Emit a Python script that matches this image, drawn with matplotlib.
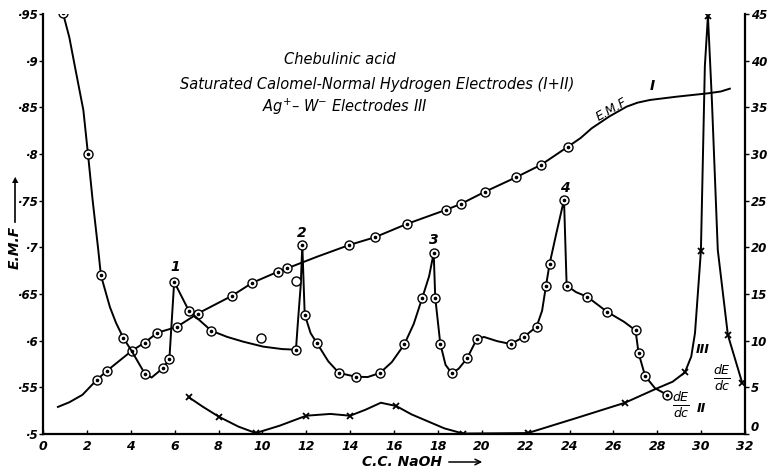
import matplotlib

matplotlib.use("Agg")

import matplotlib.pyplot as plt

W, H = 767, 469

# Curve I: E.M.F. (left scale), circles where marked
emf_x = [0.68, 1.2, 1.8, 2.45, 2.93, 4.04, 4.64, 5.21, 6.09, 7.05, 8.61, 9.54, 10.72, 11.13,
         12.5, 13.96, 15.13, 16.58, 18.35, 19.04, 20.15, 21.56, 22.71, 23.94,
         24.5, 25.01, 25.8, 26.6, 27.1, 27.67, 28.88, 30.31, 30.9, 31.31]
emf_y = [0.529, 0.534, 0.542, 0.558, 0.568, 0.589, 0.598, 0.6085, 0.6146, 0.629, 0.648, 0.662, 0.674, 0.6775,
         0.690, 0.7025, 0.7108, 0.725, 0.740, 0.7464, 0.7596, 0.775, 0.7885, 0.808,
         0.817, 0.8275, 0.840, 0.8507, 0.855, 0.8579, 0.8614, 0.865, 0.867, 0.870]
emf_mark = [0, 0, 0, 1, 1, 1, 1, 1, 1, 1, 1, 1, 1, 1,
            0, 1, 1, 1, 1, 1, 1, 1, 1, 1,
            0, 0, 0, 0, 0, 0, 0, 0, 0, 0]

# Curve II: dE/dc (right scale), calomel / hydrogen electrodes
d2_x = [0.91, 1.2, 1.46, 1.84, 2.05, 2.26, 2.52, 2.64, 3.05, 3.33, 3.66, 4.04, 4.65, 4.95, 5.46, 5.76,
        5.98, 6.65, 7.67, 8.4, 9.13, 10.04, 10.9, 11.53, 11.62, 11.75, 11.82, 11.93, 12.2, 12.49,
        13.0, 13.49, 14.25, 14.8, 15.36, 15.9, 16.47, 16.9, 17.29, 17.6, 17.81, 17.88, 18.11, 18.35,
        18.64, 18.95, 19.33, 19.77, 20.1, 20.7, 21.32, 21.92, 22.5, 22.75, 22.93, 23.09, 23.4, 23.75,
        23.87, 24.3, 24.81, 25.71, 26.5, 27.01, 27.15, 27.45, 27.9, 28.45]
d2_y = [45.1, 42.5, 39.3, 34.7, 30.0, 25.1, 19.7, 17.0, 13.6, 11.9, 10.3, 8.9, 6.43, 6.05, 7.04, 8.0,
        16.3, 13.2, 11.07, 10.4, 9.89, 9.36, 9.1, 9.03, 12.0, 16.0, 20.25, 12.8, 10.8, 9.72,
        7.8, 6.54, 6.14, 6.1, 6.54, 7.7, 9.6, 11.8, 14.6, 16.9, 19.4, 14.6, 9.68, 7.4,
        6.5, 7.0, 8.1, 10.15, 10.4, 9.95, 9.64, 10.4, 11.5, 13.2, 15.9, 18.2, 21.5, 25.1,
        15.9, 15.2, 14.7, 13.1, 12.0, 11.1, 8.65, 6.2, 4.9, 4.2]
d2_mark = [1, 0, 0, 0, 1, 0, 0, 1, 0, 0, 1, 0, 1, 0, 1, 1,
           1, 1, 1, 0, 0, 0, 0, 1, 0, 0, 1, 1, 0, 1,
           0, 1, 1, 0, 1, 0, 1, 0, 1, 0, 1, 1, 1, 0,
           1, 0, 1, 1, 0, 0, 1, 1, 1, 0, 1, 1, 0, 1,
           1, 0, 1, 1, 0, 1, 1, 1, 0, 1]
# stray readings
stray_x = [9.92, 11.52]
stray_y = [10.25, 16.4]

# Curve III: dE/dc (right scale), Ag-W electrodes, crosses where marked
d3_x = [6.65, 7.3, 8.02, 8.9, 9.7, 10.8, 12.0, 13.1, 14.0, 14.7, 15.4, 16.1, 16.8, 17.5, 18.3, 19.15,
        22.1, 24.3, 26.53, 27.9, 28.7, 29.26, 29.55, 29.72, 29.99, 30.17, 30.31, 30.49, 30.76, 31.22, 31.87]
d3_y = [3.93, 2.9, 1.85, 0.8, 0.1, 0.9, 1.96, 2.15, 1.96, 2.6, 3.35, 3.0, 2.1, 1.4, 0.6, 0.05,
        0.1, 1.7, 3.35, 4.8, 5.6, 6.6, 8.3, 10.8, 19.6, 39.4, 44.8, 35.8, 19.7, 10.6, 5.5]
d3_mark = [1, 0, 1, 0, 1, 0, 1, 0, 1, 0, 0, 1, 0, 0, 0, 1,
           1, 0, 1, 0, 0, 1, 0, 0, 1, 0, 1, 0, 0, 1, 1]

x_ticks = list(range(0, 33, 2))
left_ticks = [0.5, 0.55, 0.6, 0.65, 0.7, 0.75, 0.8, 0.85, 0.9, 0.95]
left_labels = ["·5", "·55", "·6", "·65", "·7", "·75", "·8", "·85", "·9", "·95"]
right_ticks = list(range(0, 46, 5))

peak_labels = ["1", "2", "3", "4"]
peak_x = [6.02, 11.79, 17.83, 23.79]
peak_y = [0.679, 0.7157, 0.7079, 0.7632]

title_lines = ["Chebulinic acid",
               "Saturated Calomel-Normal Hydrogen Electrodes (I+II)",
               "Ag$^{+}$– W$^{-}$ Electrodes III"]

LW = 1.4
FONT = dict(style="italic", fontweight="bold", color="black")


def px(x, y):
    return x / W, 1 - y / H


def circles(ax, xs, ys, dot=True):
    ax.plot(xs, ys, ls="none", marker="o", ms=6.5, mfc="white", mec="black", mew=1.0, zorder=4)
    if dot:
        ax.plot(xs, ys, ls="none", marker="o", ms=1.6, color="black", zorder=5)


def pick(xs, ys, flags):
    sel = [(a, b) for a, b, f in zip(xs, ys, flags) if f]
    return [a for a, _ in sel], [b for _, b in sel]


fig = plt.figure(figsize=(W / 100, H / 100), dpi=100)
fig.patch.set_facecolor("white")
ax = fig.add_axes([43 / W, 1 - 434 / H, (745 - 43) / W, (434 - 14) / H])
ax2 = ax.twinx()

ax.set_xlim(0, 32)
ax.set_ylim(0.5, 0.95)
ax2.set_ylim(0, 45)

# curve I
ax.plot(emf_x, emf_y, color="black", lw=LW, zorder=3, solid_joinstyle="round")
mx, my = pick(emf_x, emf_y, emf_mark)
circles(ax, mx, my)

# curve II
ax2.plot(d2_x, d2_y, color="black", lw=LW, zorder=3, solid_joinstyle="round")
mx, my = pick(d2_x, d2_y, d2_mark)
circles(ax2, mx, my)
circles(ax2, stray_x, stray_y, dot=False)

# curve III
ax2.plot(d3_x, d3_y, color="black", lw=LW, zorder=3, solid_joinstyle="round")
mx, my = pick(d3_x, d3_y, d3_mark)
ax2.plot(mx, my, ls="none", marker="x", ms=5, mew=1.3, color="black", zorder=5)

for s in ("top", "right"):
    ax.spines[s].set_visible(False)
for s in ("top", "left", "bottom"):
    ax2.spines[s].set_visible(False)
for sp in (ax.spines["left"], ax.spines["bottom"], ax2.spines["right"]):
    sp.set_linewidth(1.6)

ax.set_xticks(x_ticks)
ax.set_xticklabels([str(t) for t in x_ticks], fontsize=9, **FONT)
ax.set_yticks(left_ticks)
ax.set_yticklabels(left_labels, fontsize=8.5, **FONT)
ax2.set_yticks(right_ticks)
ax2.set_yticklabels([str(t) for t in right_ticks], fontsize=8.5, **FONT)
ax2.get_yticklabels()[0].set_va("bottom")
ax.tick_params(axis="x", direction="in", length=3, width=1, pad=4)
ax.tick_params(axis="y", direction="out", length=3, width=1, pad=1)
ax2.tick_params(axis="y", direction="out", length=3, width=1, pad=1)

for lab, x, y in zip(peak_labels, peak_x, peak_y):
    ax.text(x, y, lab, ha="center", va="center", fontsize=10, **FONT)

# title block
for (cx, cy), line in zip([(340, 59), (377, 84), (345, 107)], title_lines):
    fig.text(*px(cx, cy), line, ha="center", va="center", fontsize=10.5, style="italic")

# curve annotations
fig.text(*px(612, 110), "E.M.F", ha="center", va="center", fontsize=9, style="italic", rotation=30)
fig.text(*px(652, 86), "I", ha="center", va="center", fontsize=10, **FONT)
fig.text(*px(703, 349), "III", ha="center", va="center", fontsize=9, **FONT)
fig.text(*px(681, 405), r"$\frac{dE}{dc}$", ha="center", va="center", fontsize=13)
fig.text(*px(701, 408), "II", ha="center", va="center", fontsize=9, **FONT)
fig.text(*px(722, 378), r"$\frac{dE}{dc}$", ha="center", va="center", fontsize=13)

# axis titles
fig.text(*px(15, 247), "E.M.F", ha="center", va="center", rotation=90, fontsize=10, **FONT)
fig.add_artist(plt.Line2D([15 / W, 15 / W], [1 - 222 / H, 1 - 180 / H], color="black", lw=1.2))
fig.text(*px(15, 180), "▲", ha="center", va="center", fontsize=6)
fig.text(*px(402, 462), "C.C. NaOH", ha="center", va="center", fontsize=10, **FONT)
ax.annotate("", xy=(485 / W, 1 - 462 / H), xytext=(446 / W, 1 - 462 / H), xycoords="figure fraction",
            arrowprops=dict(arrowstyle="->", color="black", lw=1.1))

fig.savefig("out.png", dpi=100, facecolor="white")
